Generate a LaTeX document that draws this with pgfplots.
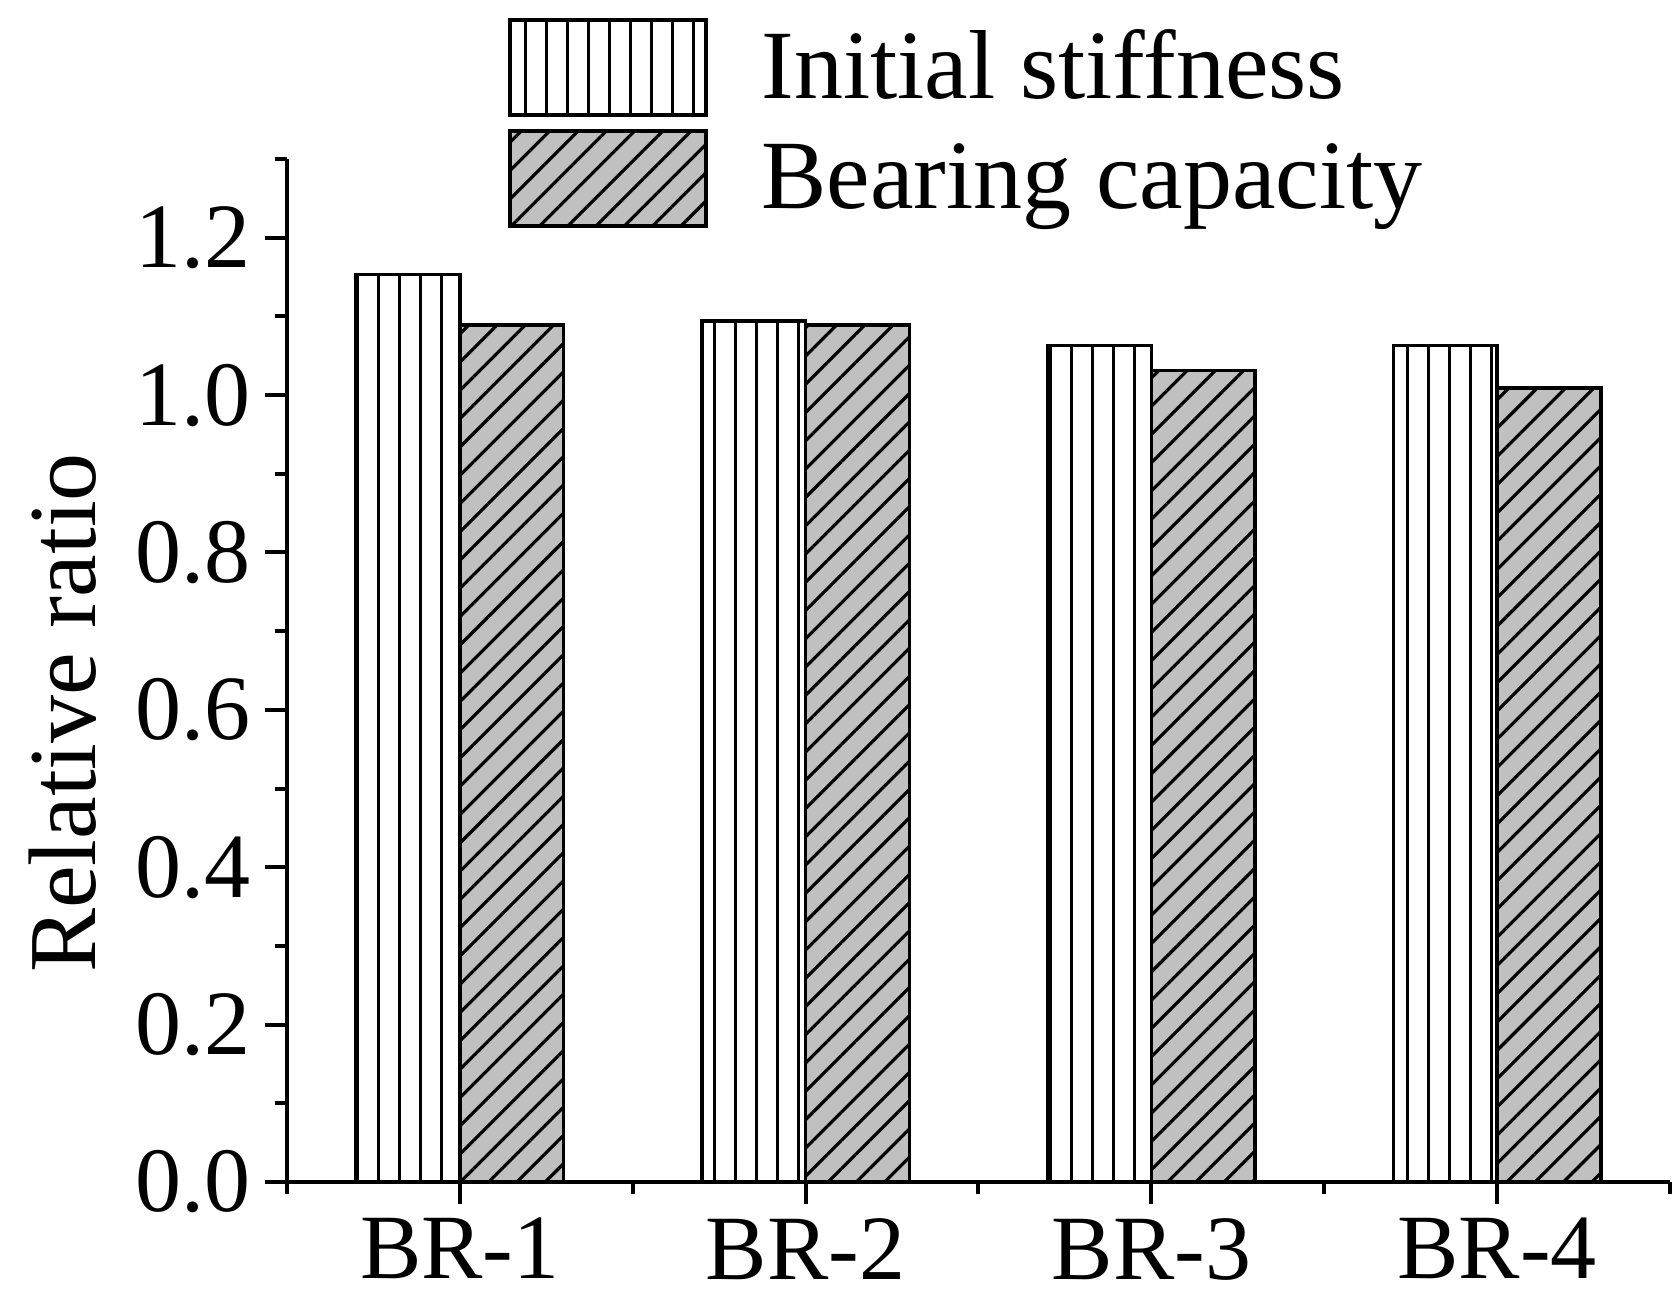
\documentclass[border=0pt]{standalone}
\usepackage{pgfplots}
\pgfplotsset{compat=1.18}
\usepackage{fontspec}
\setmainfont{Liberation Serif}
\usetikzlibrary{patterns.meta}
\definecolor{hatchgray}{RGB}{192,192,192}
\pgfplotsset{
  boxlegend/.style={legend image code/.code={\draw[##1] (0pt,-11.875pt) rectangle (49pt,11.875pt);}},
}
\begin{document}
\begin{tikzpicture}
\begin{axis}[
  name=ax,
  scale only axis,
  width=345.75pt, height=255.75pt,
  xmin=0.5, xmax=4.5, ymin=0, ymax=1.3,
  axis x line=bottom, axis y line=left,
  axis line style={-, line width=1pt},
  xtick={1,2,3,4}, xticklabels={BR-1,BR-2,BR-3,BR-4},
  minor xtick={0.5,1.5,2.5,3.5,4.5},
  ytick={0,0.2,0.4,0.6,0.8,1.0,1.2},
  minor ytick={0.1,0.3,0.5,0.7,0.9,1.1,1.3},
  tick align=outside,
  major tick length=5.5pt, minor tick length=3pt,
  every tick/.style={black, line width=1pt},
  yticklabel style={/pgf/number format/.cd, fixed, fixed zerofill, precision=1},
  /pgf/number format/assume math mode=true,
  tick label style={font=\fontsize{23}{27}\selectfont},
  ylabel={Relative ratio},
  ylabel style={font=\fontsize{24}{28}\selectfont, at={(axis description cs:-0.1388,0.4585)}, anchor=base},
  legend style={draw=none, fill=none, at={(axis description cs:0.1598,1.1378)}, anchor=north west,
    inner sep=0pt, outer sep=0pt, row sep=3.2pt, column sep=13.5pt,
    font=\fontsize{24.5}{29}\selectfont, nodes={inner sep=0pt}},
  legend cell align=left,
]
\addplot[ybar, bar width=0.3, bar shift=-0.15, draw=black, line width=0.9pt, fill=white,
  postaction={pattern color=black, pattern={Lines[angle=90,distance=5.25pt,line width=0.75pt]}}, boxlegend]
  coordinates {(1,1.153) (2,1.094) (3,1.063) (4,1.063)};
\addlegendentry{Initial stiffness}
\addplot[ybar, bar width=0.3, bar shift=0.15, draw=black, line width=0.9pt, fill=hatchgray,
  postaction={pattern color=black, pattern={Lines[angle=45,distance=5pt,line width=0.8pt]}}, boxlegend]
  coordinates {(1,1.089) (2,1.089) (3,1.031) (4,1.009)};
\addlegendentry{Bearing capacity}
\end{axis}
\pgfresetboundingbox
\path ([xshift=-71.75pt,yshift=-30.25pt]ax.south west) rectangle ([xshift=2.5pt,yshift=39.75pt]ax.north east);
\end{tikzpicture}
\end{document}
